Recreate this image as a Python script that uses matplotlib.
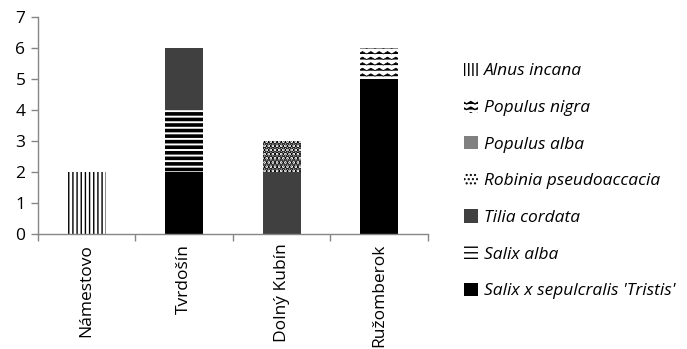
import warnings
import numpy as np
import matplotlib
matplotlib.use("Agg")
import matplotlib.pyplot as plt
import matplotlib.hatch as mhatch
from matplotlib.path import Path
from matplotlib.patches import Patch

warnings.filterwarnings("ignore")

# ---- data ----
towns = ["Námestovo", "Tvrdošín", "Dolný Kubín", "Ružomberok"]
species = ["Salix x sepulcralis 'Tristis'", "Salix alba", "Tilia cordata",
           "Robinia pseudoaccacia", "Populus alba", "Populus nigra", "Alnus incana"]
salix_sepulcralis = [0, 2, 0, 5]
salix_alba = [0, 2, 0, 0]
tilia_cordata = [0, 2, 2, 0]
robinia = [0, 0, 1, 0]
populus_alba = [0, 0, 0, 0]
populus_nigra = [0, 0, 0, 1]
alnus_incana = [2, 0, 0, 0]
series = [salix_sepulcralis, salix_alba, tilia_cordata, robinia,
          populus_alba, populus_nigra, alnus_incana]


# ---- zigzag hatch ('~') ----
class WaveHatch(mhatch.HatchPatternBase):
    def __init__(self, hatch, density):
        self.num_lines = int(hatch.count('~') * density)
        self.teeth = 12
        k = 2 * self.teeth + 1
        self.num_vertices = self.num_lines * k if self.num_lines else 0

    def set_vertices_and_codes(self, vertices, codes):
        k = 2 * self.teeth + 1
        step = 1.0 / self.num_lines
        xs = np.linspace(0.0, 1.0, k)
        amp = step * 0.22
        off = np.where(np.arange(k) % 2 == 0, -amp, amp)
        rows = np.linspace(0.0, 1.0, self.num_lines, endpoint=False) + step / 2
        for i, y in enumerate(rows):
            vertices[i * k:(i + 1) * k, 0] = xs
            vertices[i * k:(i + 1) * k, 1] = y + off
            codes[i * k] = Path.MOVETO
            codes[i * k + 1:(i + 1) * k] = Path.LINETO


mhatch._hatch_types.append(WaveHatch)

styles = [
    dict(fc="black", hatch=None, hlw=1.0),
    dict(fc="white", hatch="---", hlw=2.6),
    dict(fc="#404040", hatch=None, hlw=1.0),
    dict(fc="white", hatch="....", hlw=2.6),
    dict(fc="#808080", hatch=None, hlw=1.0),
    dict(fc="white", hatch="~~~", hlw=0.55),
    dict(fc="white", hatch="||||", hlw=1.0),
]

plt.rcParams["font.family"] = ["Open Sans", "DejaVu Sans"]
plt.rcParams["hatch.color"] = "black"
plt.rcParams["hatch.linewidth"] = 1.0

fig = plt.figure(figsize=(6.87, 3.49), dpi=100)
ax = fig.add_axes([0.0553, 0.3295, 0.5677, 0.6218])

x = np.arange(len(towns))
bottom = np.zeros(len(towns))
handles = []
for name, vals, st in zip(species, series, styles):
    vals = np.array(vals, dtype=float)
    bars = ax.bar(x, vals, width=0.39, bottom=bottom, facecolor=st["fc"],
                  edgecolor="black", linewidth=0, hatch=st["hatch"])
    for b in bars:
        try:
            b.set_hatch_linewidth(st["hlw"])
        except AttributeError:
            pass
    bottom += vals
    h = Patch(facecolor=st["fc"], edgecolor="black", linewidth=0, hatch=st["hatch"], label=name)
    try:
        h.set_hatch_linewidth(st["hlw"])
    except AttributeError:
        pass
    handles.append(h)

ax.set_xlim(-0.5, len(towns) - 0.5)
ax.set_ylim(0, 7)
ax.set_yticks(range(0, 8))
ax.set_xticks(x)
ax.set_xticklabels(towns, rotation=90, fontsize=12.5)
ax.set_xticks(np.arange(-0.5, len(towns), 1.0), minor=True)
ax.tick_params(axis="x", which="major", length=0, pad=7)
ax.tick_params(axis="x", which="minor", length=5, color="#868686", width=1)
ax.tick_params(axis="y", length=5, color="#868686", width=1, labelsize=12.5, pad=4)
for s in ["top", "right"]:
    ax.spines[s].set_visible(False)
for s in ["left", "bottom"]:
    ax.spines[s].set_color("#868686")
    ax.spines[s].set_linewidth(1)

leg = fig.legend(handles[::-1], species[::-1], loc="upper left",
                 bbox_to_anchor=(0.665, 0.84), frameon=False,
                 prop=dict(style="italic", size=12.5), handlelength=0.8,
                 handleheight=0.8, handletextpad=0.35, labelspacing=1.15,
                 borderaxespad=0)

fig.savefig("out.png", dpi=100)
